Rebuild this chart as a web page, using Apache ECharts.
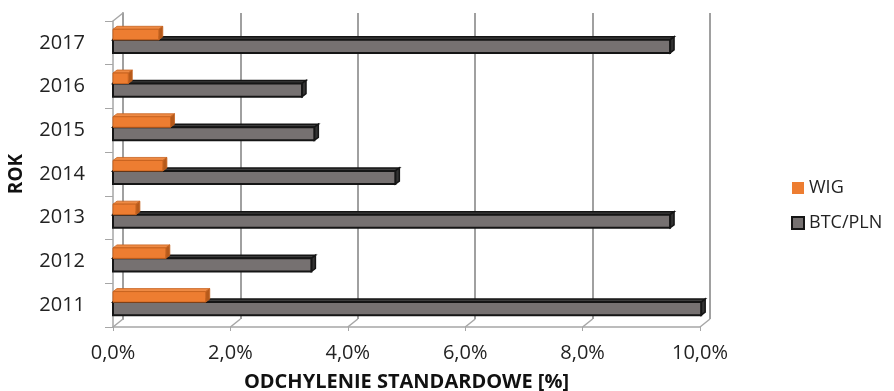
<!DOCTYPE html>
<html>
<head>
<meta charset="utf-8">
<script src="https://cdn.jsdelivr.net/npm/echarts@6/dist/echarts.min.js"></script>
<style>html,body{margin:0;padding:0;background:#fff}#c{width:894px;height:391px}</style>
</head>
<body>
<div id="c"></div>
<script>
var years = ['2011','2012','2013','2014','2015','2016','2017'];
var wig = [1.58, 0.90, 0.39, 0.85, 0.98, 0.26, 0.78];
var btc = [10.02, 3.38, 9.49, 4.81, 3.43, 3.22, 9.49];
var xTicks = [0, 2, 4, 6, 8, 10];
var seriesNames = ['WIG', 'BTC/PLN'];

var FONT = '"Open Sans", sans-serif';
var DX = 10, DY = -8;   // depth of the back wall
var fmt = function (v) { return v.toFixed(1).replace('.', ',') + '%'; };

function barRenderer(kind) {
  return function (params, api) {
    var i = api.value(0), v = api.value(1);
    var p = api.coord([v, i]), p0 = api.coord([0, i]);
    var band = api.size([0, 1])[1];
    var c = p[1];
    var yt, yb;
    if (kind === 'btc') { yt = c - band * 0.07; yb = c + band * 0.23; }
    else { yt = c - band * 0.31; yb = c - band * 0.07; }
    var x0 = p0[0], x1 = p[0], d = 4, e = 3;
    var cols = kind === 'btc'
      ? { front: '#767171', top: '#3d3d3d', side: '#333333', stroke: '#151515', lw: 2 }
      : { front: '#ED7D31', top: '#EE8A44', side: '#B65A1B', stroke: '#C8631F', lw: 1 };
    return {
      type: 'group',
      children: [
        { type: 'polygon', shape: { points: [[x0, yt], [x0 + d, yt - e], [x1 + d, yt - e], [x1, yt]] },
          style: { fill: cols.top, stroke: cols.stroke, lineWidth: kind === 'btc' ? 1.5 : 0.8 } },
        { type: 'polygon', shape: { points: [[x1, yt], [x1 + d, yt - e], [x1 + d, yb - e], [x1, yb]] },
          style: { fill: cols.side, stroke: cols.stroke, lineWidth: kind === 'btc' ? 1.5 : 0.8 } },
        { type: 'rect', shape: { x: x0, y: yt, width: x1 - x0, height: yb - yt },
          style: { fill: cols.front, stroke: cols.stroke, lineWidth: cols.lw } }
      ]
    };
  };
}

var chart = echarts.init(document.getElementById('c'));
chart.setOption({
  animation: false,
  backgroundColor: '#fff',
  textStyle: { fontFamily: FONT },
  grid: [
    { left: 113, top: 21, right: 194, bottom: 64, containLabel: false, outerBoundsMode: 'none' },
    { left: 113 + DX, top: 21 + DY, right: 194 - DX, bottom: 64 - DY, containLabel: false, outerBoundsMode: 'none' }
  ],
  legend: {
    orient: 'vertical', left: 786, top: 174, itemWidth: 12, itemHeight: 12, itemGap: 17,
    textStyle: { fontFamily: FONT, fontSize: 18, color: '#222' },
    data: [
      { name: seriesNames[0], icon: 'rect', itemStyle: { color: '#ED7D31', borderWidth: 0 } },
      { name: seriesNames[1], icon: 'rect', itemStyle: { color: '#767171', borderColor: '#151515', borderWidth: 2 } }
    ]
  },
  xAxis: [
    { gridIndex: 0, type: 'value', min: 0, max: 10, interval: 2,
      axisLine: { show: true, lineStyle: { color: '#a6a6a6', width: 1.5 } },
      axisTick: { show: true, length: 4, lineStyle: { color: '#a6a6a6' } },
      splitLine: { show: false },
      axisLabel: { formatter: fmt, fontSize: 20, color: '#222', margin: 16, fontFamily: FONT },
      name: 'ODCHYLENIE STANDARDOWE [%]', nameLocation: 'middle', nameGap: 45,
      nameTextStyle: { fontWeight: 'bold', fontSize: 20, color: '#111', fontFamily: FONT } },
    { gridIndex: 1, type: 'value', min: 0, max: 10, interval: 2,
      axisLine: { show: false }, axisTick: { show: false }, axisLabel: { show: false },
      splitLine: { show: true, lineStyle: { color: '#a0a0a0', width: 2 } } }
  ],
  yAxis: [
    { gridIndex: 0, type: 'category', data: years,
      axisLine: { show: true, lineStyle: { color: '#a6a6a6', width: 1.5 } },
      axisTick: { show: true, length: 8, lineStyle: { color: '#a6a6a6' } },
      axisLabel: { fontSize: 20, color: '#222', margin: 28, fontFamily: FONT },
      name: 'ROK', nameLocation: 'middle', nameRotate: 90, nameGap: 87,
      nameTextStyle: { fontWeight: 'bold', fontSize: 19, color: '#111', fontFamily: FONT } },
    { gridIndex: 1, type: 'category', data: years,
      axisLine: { show: true, lineStyle: { color: '#a0a0a0', width: 2 } },
      axisTick: { show: false }, axisLabel: { show: false }, splitLine: { show: false } }
  ],
  series: [
    { type: 'custom', name: 'floor', xAxisIndex: 0, yAxisIndex: 0, silent: true, z: 1,
      data: xTicks.map(function (t) { return [t]; }),
      renderItem: function (params, api) {
        var t = api.value(0);
        var p = api.coord([t, 0]);
        var band = api.size([0, 1])[1];
        var yb = p[1] + band / 2;
        var children = [{ type: 'line', shape: { x1: p[0], y1: yb, x2: p[0] + DX, y2: yb + DY },
          style: { stroke: '#a6a6a6', lineWidth: 1.5 } }];
        if (t === 0) {
          var top = api.coord([0, years.length - 1])[1] - band / 2;
          children.push({ type: 'line', shape: { x1: p[0], y1: top, x2: p[0] + DX, y2: top + DY },
            style: { stroke: '#a6a6a6', lineWidth: 1.5 } });
        }
        return { type: 'group', children: children };
      } },
    { type: 'custom', name: seriesNames[1], xAxisIndex: 0, yAxisIndex: 0, z: 3,
      itemStyle: { color: '#767171', borderColor: '#151515', borderWidth: 2 },
      data: btc.map(function (v, i) { return [i, v]; }),
      encode: { x: 1, y: 0 },
      renderItem: barRenderer('btc') },
    { type: 'custom', name: seriesNames[0], xAxisIndex: 0, yAxisIndex: 0, z: 4,
      itemStyle: { color: '#ED7D31' },
      data: wig.map(function (v, i) { return [i, v]; }),
      encode: { x: 1, y: 0 },
      renderItem: barRenderer('wig') }
  ]
});
</script>
</body>
</html>
